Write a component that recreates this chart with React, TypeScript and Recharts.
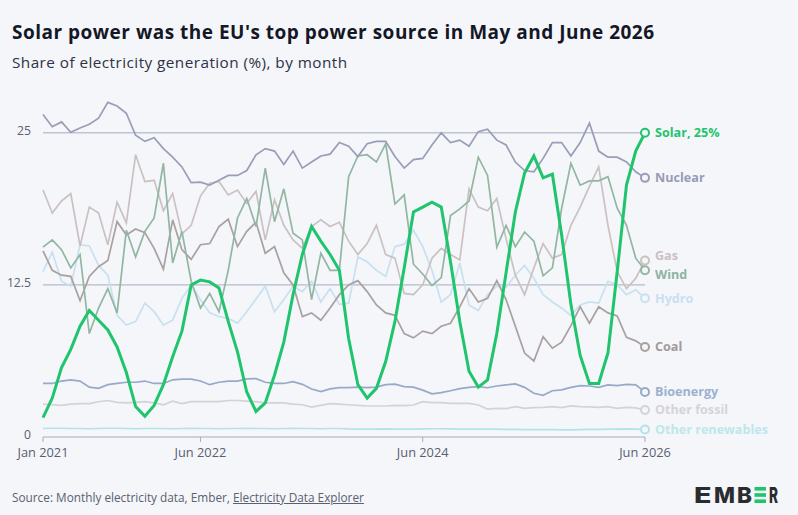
import React from 'react';
import { LineChart, Line, XAxis, YAxis, ReferenceLine } from 'recharts';

const months = [
  'Jan 2021','Feb 2021','Mar 2021','Apr 2021','May 2021','Jun 2021','Jul 2021','Aug 2021','Sep 2021','Oct 2021','Nov 2021','Dec 2021',
  'Jan 2022','Feb 2022','Mar 2022','Apr 2022','May 2022','Jun 2022','Jul 2022','Aug 2022','Sep 2022','Oct 2022','Nov 2022','Dec 2022',
  'Jan 2023','Feb 2023','Mar 2023','Apr 2023','May 2023','Jun 2023','Jul 2023','Aug 2023','Sep 2023','Oct 2023','Nov 2023','Dec 2023',
  'Jan 2024','Feb 2024','Mar 2024','Apr 2024','May 2024','Jun 2024','Jul 2024','Aug 2024','Sep 2024','Oct 2024','Nov 2024','Dec 2024',
  'Jan 2025','Feb 2025','Mar 2025','Apr 2025','May 2025','Jun 2025','Jul 2025','Aug 2025','Sep 2025','Oct 2025','Nov 2025','Dec 2025',
  'Jan 2026','Feb 2026','Mar 2026','Apr 2026','May 2026','Jun 2026',
];

const solar = [1.6,3.2,5.7,7.2,9.1,10.4,9.6,8.8,7.4,5.3,2.5,1.7, 2.6,4.3,6.6,8.7,12.5,12.9,12.75,12.25,9.5,7.0,3.7,2.1, 2.8,5.1,7.8,11.7,15.0,17.3,16.1,15.0,13.7,8.1,4.3,3.2, 4.0,6.2,9.5,13.9,18.5,18.9,19.3,18.9,14.4,9.5,5.4,4.1, 4.7,8.5,13.5,18.5,21.7,23.1,21.3,21.6,16.6,10.9,6.7,4.4, 4.4,6.9,13.6,20.7,23.5,25.0];
const nuclear = [26.5,25.5,25.9,25.05,25.4,25.7,26.2,27.5,27.2,26.6,24.8,24.3, 24.6,23.7,23.0,22.2,20.9,20.95,20.7,21.1,21.5,21.5,21.9,23.2, 23.7,23.5,22.4,23.5,22.1,22.6,23.1,23.25,24.2,23.9,23.05,24.1, 24.3,24.3,23.05,22.1,22.8,22.9,24.0,25.0,24.2,24.4,23.9,25.1, 25.3,24.4,24.0,22.6,21.9,21.8,22.9,24.2,24.2,23.1,24.2,25.8, 23.5,23.0,23.0,22.6,21.8,21.3];
const gas = [20.3,18.4,19.4,20.0,15.7,18.9,18.4,15.8,19.3,17.6,23.2,21.0, 21.1,18.6,20.0,16.7,17.4,19.8,20.85,21.0,19.9,20.3,19.2,20.2, 16.2,19.5,17.4,16.2,15.5,17.3,17.85,17.3,17.65,16.1,15.0,15.9, 17.4,15.0,14.7,11.8,11.7,12.5,14.7,15.5,15.0,14.55,20.4,18.9, 18.6,19.6,16.3,13.3,11.7,13.9,15.9,14.7,15.0,17.4,18.9,20.6, 22.2,17.4,13.6,12.2,13.05,14.5];
const wind = [15.6,16.2,15.4,13.9,15.0,8.5,10.6,12.2,10.2,17.0,14.8,16.9, 18.0,22.5,14.3,16.9,12.8,10.6,11.8,10.3,13.7,18.0,19.6,17.3, 22.1,17.7,20.4,16.75,16.2,11.3,15.1,13.7,13.7,21.4,23.1,23.2, 22.6,24.1,19.15,19.9,14.2,13.4,12.45,13.1,18.2,18.75,19.4,23.0, 21.5,15.6,17.4,15.65,16.85,16.1,13.25,13.9,18.8,22.5,20.7,21.05, 21.05,21.4,18.8,17.4,14.7,13.7];
const hydro = [13.6,15.2,12.8,12.4,15.8,15.7,14.1,13.3,10.0,9.2,9.5,11.0, 10.3,9.2,9.6,11.4,12.5,11.3,10.2,9.9,9.75,9.35,10.3,11.35, 12.4,10.3,11.3,12.4,11.95,12.8,11.1,12.2,10.9,11.0,14.8,14.4, 13.7,13.2,15.65,15.85,17.0,15.65,13.7,11.1,11.7,14.3,10.85,10.4, 11.7,12.4,12.3,13.3,14.1,13.05,11.7,11.1,10.6,10.0,10.85,11.1, 11.0,12.8,12.5,11.7,12.1,11.4];
const coal = [15.3,13.7,13.3,13.2,11.2,13.2,14.0,14.5,17.7,16.6,17.1,16.8, 15.5,13.8,17.85,15.4,14.6,15.8,15.9,17.3,17.9,15.65,16.9,17.65, 15.1,15.65,13.5,12.5,9.9,10.2,9.6,10.6,11.7,12.5,12.85,11.95, 10.85,10.2,10.0,8.5,8.15,8.7,8.5,9.1,9.35,10.7,12.2,11.1, 11.4,12.85,11.3,9.1,6.9,6.25,8.25,7.3,7.8,9.15,10.7,9.35, 10.7,10.2,9.95,8.2,7.9,7.4];
const bioenergy = [4.4,4.4,4.6,4.7,4.6,4.1,4.0,4.3,4.4,4.5,4.5,4.6, 4.4,4.4,4.7,4.75,4.75,4.6,4.3,4.5,4.6,4.6,4.77,4.8, 4.5,4.4,4.4,4.55,4.33,3.95,3.73,3.95,4.06,4.06,4.1,4.06, 4.1,4.3,4.35,4.14,4.1,3.85,3.55,3.65,3.8,3.98,4.08,4.14, 4.05,4.19,4.28,4.36,4.08,3.59,3.43,3.8,3.87,4.08,4.22,4.19, 4.08,4.28,4.22,4.33,4.28,3.7];
const otherFossil = [2.7,2.65,2.6,2.7,2.75,2.75,2.9,3.0,2.85,2.8,2.85,2.9, 2.8,2.65,2.95,2.75,2.9,2.9,2.9,2.9,3.0,3.0,2.95,2.9, 2.8,2.8,2.8,2.7,2.65,2.45,2.6,2.75,2.7,2.65,2.6,2.55, 2.55,2.55,2.6,2.58,2.63,2.9,2.82,2.82,2.77,2.77,2.77,2.63, 2.3,2.36,2.33,2.5,2.36,2.41,2.44,2.5,2.41,2.55,2.5,2.47, 2.44,2.5,2.36,2.44,2.39,2.22];
const otherRenewables = [0.7,0.72,0.72,0.7,0.7,0.68,0.7,0.72,0.72,0.7,0.68,0.7, 0.7,0.7,0.68,0.7,0.72,0.7,0.7,0.68,0.7,0.7,0.72,0.7, 0.7,0.68,0.7,0.72,0.7,0.7,0.68,0.7,0.7,0.66,0.65,0.65, 0.65,0.66,0.65,0.64,0.65,0.66,0.68,0.68,0.66,0.65,0.64,0.64, 0.65,0.64,0.62,0.62,0.6,0.6,0.6,0.6,0.58,0.58,0.6,0.62, 0.62,0.64,0.64,0.66,0.65,0.62];

const xTicks = ['Jan 2021', 'Jun 2022', 'Jun 2024', 'Jun 2026'];
const yTicks = [0, 12.5, 25];
const gridValues = [12.5, 25];

const data = months.map((m, i) => ({
  month: m,
  solar: solar[i],
  nuclear: nuclear[i],
  gas: gas[i],
  wind: wind[i],
  hydro: hydro[i],
  coal: coal[i],
  bioenergy: bioenergy[i],
  otherFossil: otherFossil[i],
  otherRenewables: otherRenewables[i],
}));

const BG = '#f4f6fa';
const FONT = '"Open Sans", "Noto Sans", sans-serif';
const AXIS = '#a7abbe';

type SeriesStyle = { key: string; label: string; color: string; labelColor: string; width: number; dy: number };

const series: SeriesStyle[] = [
  { key: 'otherRenewables', label: 'Other renewables', color: '#b3e3e6', labelColor: '#bde7ea', width: 1.7, dy: 0 },
  { key: 'otherFossil', label: 'Other fossil', color: '#d3d3d7', labelColor: '#d4d4d8', width: 1.7, dy: 0 },
  { key: 'bioenergy', label: 'Bioenergy', color: '#96aac8', labelColor: '#9db1cf', width: 1.7, dy: 0 },
  { key: 'hydro', label: 'Hydro', color: '#c8e0f0', labelColor: '#c9e0f1', width: 1.7, dy: 0 },
  { key: 'coal', label: 'Coal', color: '#a9a0a0', labelColor: '#a29a9a', width: 1.7, dy: 0 },
  { key: 'gas', label: 'Gas', color: '#cbc1c1', labelColor: '#cbc1c1', width: 1.7, dy: -5 },
  { key: 'wind', label: 'Wind', color: '#92b6a2', labelColor: '#8fb39f', width: 1.7, dy: 4 },
  { key: 'nuclear', label: 'Nuclear', color: '#999db7', labelColor: '#989cb6', width: 1.7, dy: 0 },
  { key: 'solar', label: 'Solar, 25%', color: '#1fc46d', labelColor: '#1fc46d', width: 3, dy: 0 },
];

const makeDot = (s: SeriesStyle) => (props: any) => {
  const { cx, cy, index } = props;
  if (index !== data.length - 1 || cx == null || cy == null) {
    return <g key={`dot-${s.key}-${index}`} />;
  }
  return (
    <g key={`dot-${s.key}-${index}`}>
      <circle cx={cx} cy={cy} r={4} fill={BG} stroke={s.color} strokeWidth={2} />
      <text
        x={cx + 10}
        y={cy + s.dy}
        dominantBaseline="central"
        fontSize={12.6}
        fontWeight={700}
        fontFamily={FONT}
        fill={s.labelColor}
      >
        {s.label}
      </text>
    </g>
  );
};

export default function App() {
  return (
    <div
      style={{
        position: 'fixed',
        left: 0,
        top: 0,
        width: 798,
        height: 515,
        background: BG,
        fontFamily: FONT,
        overflow: 'hidden',
      }}
    >
      <div style={{ position: 'absolute', left: 12, top: 18, fontSize: 19, fontWeight: 700, letterSpacing: '0.5px', lineHeight: '28px', color: '#141826', whiteSpace: 'nowrap' }}>
        Solar power was the EU's top power source in May and June 2026
      </div>
      <div style={{ position: 'absolute', left: 12, top: 51, fontSize: 15.3, letterSpacing: '0.45px', lineHeight: '22px', color: '#2e3243', whiteSpace: 'nowrap' }}>
        Share of electricity generation (%), by month
      </div>
      <div style={{ position: 'absolute', left: 0, top: 0 }}>
        <LineChart width={798} height={515} data={data} margin={{ top: 72, right: 153, bottom: 48, left: 0 }}>
          {gridValues.map((v) => (
            <ReferenceLine key={`grid-${v}`} y={v} stroke={AXIS} strokeWidth={1} ifOverflow="extendDomain" />
          ))}
          <XAxis
            dataKey="month"
            ticks={xTicks}
            interval={0}
            tick={{ fontSize: 12.8, fill: '#5a5e70', fontFamily: FONT, dy: 4 }}
            tickLine={{ stroke: AXIS }}
            tickSize={5}
            axisLine={{ stroke: AXIS }}
            height={30}
          />
          <YAxis
            type="number"
            domain={[0, 30]}
            ticks={yTicks}
            width={43}
            axisLine={false}
            tickLine={false}
            tickMargin={6}
            tick={{ fontSize: 12.2, fill: '#5a5e70', fontFamily: FONT, dy: -2 }}
          />
          {series.map((s) => (
            <Line
              key={s.key}
              type="linear"
              dataKey={s.key}
              stroke={s.color}
              strokeWidth={s.width}
              dot={makeDot(s)}
              activeDot={false}
              isAnimationActive={false}
            />
          ))}
        </LineChart>
      </div>
      <div style={{ position: 'absolute', left: 12, top: 488, fontSize: 11.8, lineHeight: '18px', color: '#5b5f6e', whiteSpace: 'nowrap' }}>
        Source: Monthly electricity data, Ember,{' '}
        <span style={{ textDecoration: 'underline' }}>Electricity Data Explorer</span>
      </div>
      <svg style={{ position: 'absolute', left: 0, top: 0 }} width={798} height={515} pointerEvents="none">
        <g fontFamily="Inter, 'DejaVu Sans', sans-serif" fontWeight={800} fontSize={22} fill="#2a2b2e">
          <text x={694} y={503} textLength={17.5} lengthAdjust="spacingAndGlyphs">E</text>
          <text x={714} y={503} textLength={21} lengthAdjust="spacingAndGlyphs">M</text>
          <text x={737} y={503} textLength={15} lengthAdjust="spacingAndGlyphs">B</text>
          <rect x={754.5} y={487} width={11.5} height={3.6} fill="#1fc46d" />
          <rect x={754.5} y={493.2} width={11.5} height={3.6} fill="#1fc46d" />
          <rect x={754.5} y={499.4} width={11.5} height={3.6} fill="#1fc46d" />
          <text x={769} y={503} textLength={9} lengthAdjust="spacingAndGlyphs">R</text>
        </g>
      </svg>
    </div>
  );
}
